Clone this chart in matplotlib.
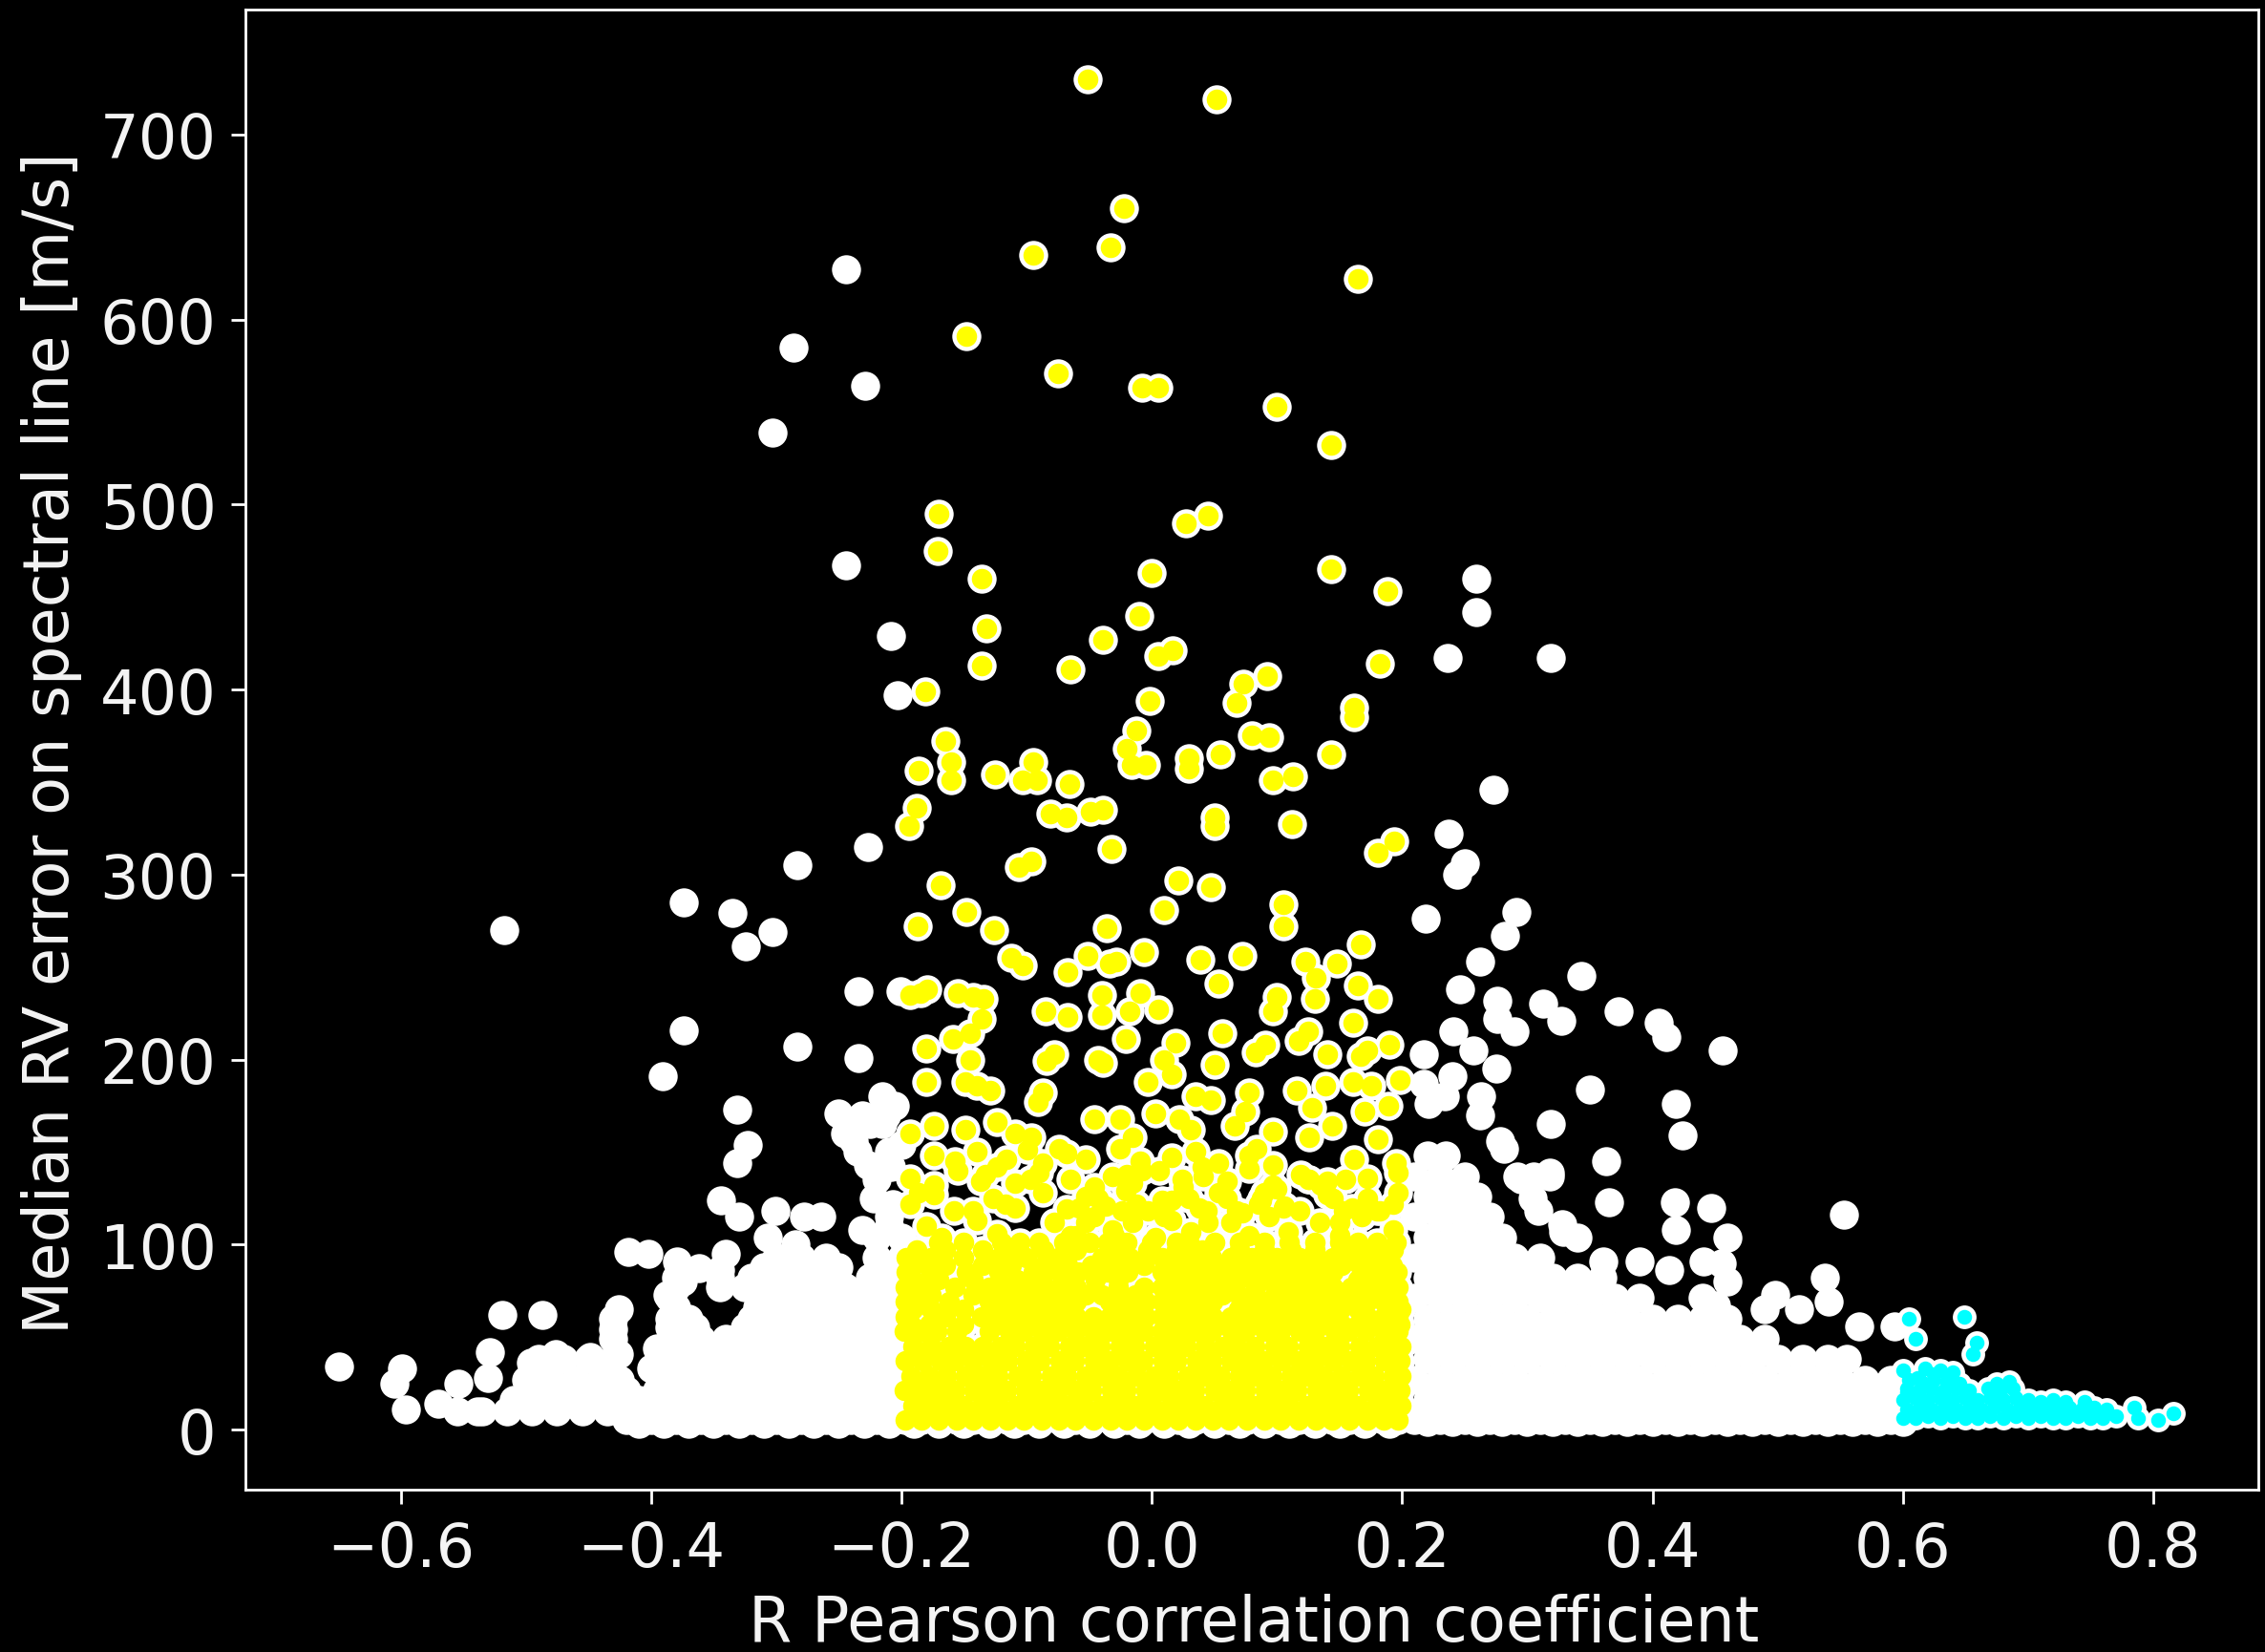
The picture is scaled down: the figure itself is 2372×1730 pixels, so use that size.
#!/usr/bin/python
# median RV error per spectral line against the R Pearson coefficient
# values, dense parts are kept as rows of points

import matplotlib
matplotlib.use('Agg')
import matplotlib.pyplot as plt

# isolated points outside the coloured ranges
white_x = [-.649,-.599,-.605,-.596,-.57,-.554,-.519,-.487,-.529,-.53,-.539,-.426,-.43,-.426,-.449,-.476,-.496,
           -.418,-.402,-.379,-.362,-.34,-.345,-.387,-.375,-.344,-.33,-.301,-.307,-.278,-.264,-.285,
           -.244,-.286,-.229,-.303,-.244,-.208,-.203,-.227,-.283,-.374,-.335,-.324,-.303,-.517,-.374,-.391,-.283,
           -.234,-.234,-.331,-.323,-.331,-.25,-.215,-.231,-.227,-.238,-.215,-.2,-.207,-.231,-.21,-.201,-.212,
           -.225,-.21,-.22,-.205,-.235,-.245,-.222,-.208,
           .236,.259,.259,.319,.273,.237,.25,.244,.219,.291,.282,.262,.246,.276,.276,.29,.241,.257,.313,.327,.343,
           .373,.405,.411,.456,.35,.419,.424,.319,.363,.365,.418,.447,.419,.553,.278,.281,.292,.318,.304,.329,
           .217,.221,.24,.263,.234,.217,.305,.318,.295,.309,.328,.34,.361,.39,.413,.441,.46,.455,.46,.451,
           .498,.49,.538,.541,.517,.565,.593,.275,.262]
white_y = [34,33,25,11,14,25,62,62,42,28,10,65,54,41,39,41,36,
           96,95,91,87,95,86,73,80,124,115,118,104,115,115,100,
           627,585,564,539,467,429,397,315,305,285,279,261,269,270,216,191,207,
           237,201,173,154,144,171,180,170,143,156,165,154,122,108,110,237,170,
           165,150,135,175,150,160,125,142,
           417,460,442,417,346,322,306,300,276,280,267,253,238,232,222,215,215,205,230,221,245,
           226,220,212,205,184,176,159,165,145,123,123,120,108,116,156,152,137,137,125,107,
           203,176,191,180,180,187,137,139,135,118,111,104,91,91,86,91,104,90,80,67,
           73,65,82,69,65,56,56,195,170]

# white rows filling the two wings
wing_y = [3,4,5,5,10,16,16,21,27,27,33,38,38,44,49,49,55,60,60,66,71,71,77,82,82,88,93,93,104,104,115,115,126,137,148]
wing_x = [
    [-.41,-.39,-.37,-.35,-.33,-.31,-.29,-.27,-.25,-.23,-.21,-.19,-.17,-.15,-.13,-.11,-.09,-.07,-.05,-.03,-.01,.01,.03,.05,.07,.09,.11,.13,.15,.17,.19],
    [.22,.24,.26,.28,.30,.32,.34,.36,.38,.40,.42,.44,.46,.48,.50,.52,.54,.56,.58,.60],
    [-.42,-.40,-.38,-.36,-.34,-.32,-.30,-.28,-.26,-.24,-.22,-.205],
    [.21,.23,.25,.27,.29,.31,.33,.35,.37,.39,.41,.43,.45,.47,.49,.51,.53,.55,.57,.59,.60],
    [-.555,-.535,-.515,-.495,-.475,-.455,-.435],
    [-.51,-.49,-.47,-.45,-.43,-.41,-.39,-.37,-.35,-.33,-.31,-.29,-.27,-.25,-.23,-.21],
    [.22,.24,.26,.28,.30,.32,.34,.36,.38,.40,.42,.44,.46,.48,.50,.52,.54,.56,.58,.595],
    [-.42,-.395,-.375,-.355,-.335,-.315,-.295,-.275,-.255,-.235,-.215],
    [-.50,-.48,-.46,-.44,-.425,-.39,-.37,-.35,-.33,-.31,-.29,-.27,-.25,-.23,-.21],
    [.21,.23,.25,.27,.29,.31,.33,.35,.37,.39,.41,.43,.45,.47,.49,.51,.53,.55,.57,.59,.60],
    [-.40,-.38,-.36,-.34,-.32,-.30,-.28,-.26,-.24,-.22,-.20],
    [-.49,-.47,-.45,-.43,-.385,-.365,-.345,-.325,-.305,-.285,-.265,-.245,-.225,-.205],
    [.22,.24,.26,.28,.30,.32,.34,.36,.38,.40,.42,.44,.46,.48,.50,.52,.54,.555],
    [-.395,-.375,-.355,-.335,-.315,-.295,-.275,-.255,-.235,-.215],
    [-.43,-.38,-.36,-.34,-.32,-.30,-.28,-.26,-.24,-.22,-.20],
    [.21,.23,.25,.27,.29,.31,.33,.35,.37,.39,.41,.43,.45,.47,.49],
    [-.385,-.365,-.325,-.305,-.285,-.265,-.245,-.225,-.205],
    [-.43,-.385,-.37,-.32,-.305,-.285,-.265,-.245,-.225,-.205],
    [.22,.24,.26,.28,.30,.32,.34,.36,.38,.40,.42,.44,.46],
    [-.38,-.315,-.295,-.275,-.255,-.235,-.215],
    [-.385,-.31,-.29,-.27,-.25,-.23,-.21],
    [.21,.23,.25,.27,.29,.31,.33,.35,.37,.39,.44],
    [-.38,-.345,-.325,-.305,-.285,-.265,-.245,-.215],
    [-.38,-.345,-.32,-.30,-.28,-.26,-.225,-.205],
    [.22,.24,.26,.28,.30,.32,.34,.36],
    [-.31,-.29,-.27,-.25,-.215],
    [-.30,-.28,-.26,-.22,-.20],
    [.21,.23,.25,.27,.29,.31],
    [-.22,-.20],
    [.22,.24,.26,.28],
    [-.21],
    [.21,.23,.25,.27],
    [.22,.24,.26],
    [.21,.23,.25],
    [.22,.235],
]

# yellow points above the solid block
yellow_x = [-.051,.052,-.022,-.033,-.095,.165,-.148,-.075,-.008,.005,.1,.143,-.17,-.171,.027,.045,-.136,0,.143,.188,
            -.132,-.136,-.065,-.039,-.01,.005,.017,-.181,.092,.073,.068,.182,.162,.162,-.002,-.012,-.165,-.16,-.16,
            -.186,-.188,-.194,-.125,-.095,-.103,-.092,-.066,-.081,-.068,-.049,-.039,-.02,-.016,-.005,.03,.03,.055,
            .08,.094,.113,.097,.143,.05,.05,.112,.194,.181,-.032,-.106,-.096,-.169,.021,.047,.01,-.148,.105,.105,
            -.126,-.187,-.036,-.112,-.103,-.006,-.028,-.034,-.051,-.067,.039,.072,.053,.123,.148,.131,
            -.185,-.193,-.179,-.155,-.143,-.134,-.04,-.009,.13,.165,.181,.1,.097,-.085,-.067,-.04,-.018,.005,-.136,
            .161,-.145,-.159,-.18,.056,-.021,.019,.125,.117,.091,.083,.19,.14,.167,-.078,-.084,-.043,-.039,-.145,
            .05,.01,-.18,-.149,-.129,-.14,-.087,-.091,-.003,.016,.078,.116,.139,.161,.175,.198,.035,.047,.128,.144,
            .17,.189,.003,.022,-.046,-.025,-.015,.066,.075,.031,.097,.126,.181,-.124,-.109,-.096,-.174,-.193,-.149,
            -.074,.084,.167,.172,
            # band between 100 and 155
            -.18,-.168,-.14,-.124,-.078,-.065,-.046,-.031,-.015,.003,.016,.031,.063,.078,.094,.109,.134,.15,.168,.193,
            -.193,-.174,-.143,-.127,-.109,-.087,-.068,-.053,-.037,-.021,-.003,.016,.038,.053,.072,.088,.106,.14,.153,.172,.193,
            -.193,-.174,-.155,-.137,-.124,-.109,-.09,-.065,-.046,-.031,-.015,.006,.025,.041,.06,.078,.097,.119,.14,.172,.197,
            -.174,-.157,-.14,-.116,-.099,-.087,-.068,-.053,-.025,-.009,.016,.035,.053,.078,.097,.162,.195,
            -.186,-.158,-.133,-.117,-.097,-.058,-.043,-.024,-.008,.008,.024,.044,.06,.085,.1,.118,.126,.145,.16,.18,.197,
            -.053,-.03,-.012,.01,.03,.045,.068,.088,.105,.125,.15,.182,-.06,-.02,.04,.09,.135,.155]
yellow_y = [730,719,660,639,635,622,591,571,563,563,553,532,495,475,490,494,460,463,465,453,
            433,413,411,427,440,418,421,399,407,403,393,414,390,385,394,378,372,361,351,
            356,336,326,354,361,351,351,349,333,331,334,335,368,359,359,363,357,365,
            375,374,353,351,365,331,326,327,318,312,314,304,307,294,297,293,281,280,284,272,
            270,272,271,255,251,258,253,252,256,247,254,256,241,253,252,244,
            236,235,238,236,234,233,235,236,233,240,233,234,226,226,223,224,226,227,222,
            220,214,211,206,214,211,209,215,210,208,204,208,203,202,203,199,200,198,200,
            197,200,188,188,183,186,182,177,188,192,182,183,186,188,186,189,180,178,174,164,
            172,175,171,168,168,168,158,164,172,162,161,158,157,166,160,158,164,160,162,
            152,152,262,205,
            110,104,113,106,112,105,115,108,112,104,113,107,112,105,115,107,112,105,115,108,
            122,127,118,125,120,128,119,126,121,129,118,124,120,128,117,125,121,127,118,125,122,
            136,132,140,134,142,133,139,135,131,137,133,140,131,137,134,141,132,138,134,136,139,
            148,145,150,146,151,144,149,146,152,145,147,150,144,148,143,146,144,
            128,118,138,122,135,120,125,118,140,124,135,118,125,122,130,118,135,125,120,118,128,
            112,105,122,115,125,112,118,124,120,135,112,118,105,138,142,128,132,135]

# yellow rows making up the solid block
block_y = [5,13,21,29,37,45,53,57,61,65,69,73,77,81,85,89,93,97,101]
block_x = [
    [-.197,-.184,-.170,-.156,-.143,-.129,-.115,-.102,-.088,-.074,-.061,-.047,-.033,-.020,-.006,.008,.021,.035,.049,.062,.076,.090,.103,.117,.131,.144,.158,.172,.185,.197],
    [-.191,-.177,-.163,-.150,-.136,-.122,-.108,-.095,-.081,-.067,-.054,-.040,-.026,-.013,.001,.015,.028,.042,.056,.069,.083,.097,.110,.124,.138,.151,.165,.179,.192,.199],
    [-.198,-.185,-.171,-.157,-.142,-.130,-.116,-.101,-.087,-.075,-.060,-.048,-.032,-.021,-.005,.009,.022,.034,.050,.063,.075,.091,.104,.116,.132,.145,.157,.173,.186,.198],
    [-.192,-.178,-.164,-.149,-.135,-.123,-.107,-.096,-.080,-.068,-.053,-.039,-.027,-.012,.002,.014,.029,.043,.055,.070,.084,.096,.111,.125,.137,.152,.166,.178,.193,.199],
    [-.197,-.183,-.169,-.157,-.143,-.128,-.115,-.100,-.089,-.073,-.062,-.046,-.034,-.019,-.007,.009,.020,.036,.048,.063,.077,.089,.104,.118,.130,.145,.159,.171,.186,.198],
    [-.191,-.176,-.162,-.149,-.135,-.121,-.109,-.094,-.082,-.066,-.054,-.041,-.025,-.014,.002,.016,.027,.043,.057,.068,.082,.098,.109,.125,.139,.150,.166,.180,.191,.199],
    [-.198,-.184,-.172,-.156,-.130,-.114,-.102,-.088,-.075,-.061,-.047,-.033,-.019,-.006,.008,.022,.035,.048,.064,.075,.091,.103,.118,.130,.146,.157,.171,.185,.197],
    [-.192,-.178,-.150,-.122,-.108,-.095,-.081,-.068,-.053,-.040,-.027,-.012,.015,.029,.042,.056,.070,.083,.097,.112,.124,.138,.152,.165,.179,.191,.198],
    [-.197,-.165,-.136,-.116,-.101,-.088,-.075,-.060,-.047,-.034,-.020,-.005,.008,.022,.036,.049,.063,.076,.090,.105,.117,.131,.145,.172,.185,.197],
    [-.191,-.176,-.150,-.123,-.108,-.095,-.082,-.067,-.027,-.013,.015,.029,.042,.069,.083,.098,.111,.124,.138,.151,.165,.192,.199],
    [-.197,-.184,-.162,-.130,-.116,-.101,-.088,-.075,-.060,-.034,-.020,-.005,.008,.022,.036,.049,.076,.090,.105,.117,.131,.145,.159,.172,.185,.197],
    [-.192,-.176,-.143,-.122,-.108,-.082,-.067,-.053,-.040,-.013,.015,.029,.042,.056,.069,.098,.111,.124,.138,.151,.165,.179,.192],
    [-.197,-.184,-.157,-.130,-.116,-.095,-.074,-.060,-.027,-.006,.008,.022,.036,.049,.063,.083,.105,.117,.131,.145,.159,.172,.185,.197],
    [-.191,-.170,-.143,-.108,-.088,-.067,-.045,-.027,.015,.029,.042,.056,.069,.090,.098,.111,.124,.138,.165,.179,.192],
    [-.196,-.176,-.148,-.122,-.095,-.074,-.059,-.036,-.019,.008,.022,.050,.063,.076,.104,.117,.131,.145,.172,.185,.196],
    [-.19,-.165,-.135,-.112,-.086,-.067,-.048,-.028,-.006,.015,.036,.056,.070,.090,.111,.124,.138,.152,.166,.179,.192],
    [-.196,-.176,-.150,-.122,-.100,-.075,-.040,-.018,.008,.028,.048,.063,.080,.100,.118,.145,.160,.185],
    [-.188,-.165,-.135,-.112,-.086,-.060,-.028,-.003,.020,.040,.070,.090,.111,.130,.152,.172,.193],
    [-.17,-.15,-.12,-.105,-.09,-.07,-.05,-.035,-.02,0,.02,.03,.05,.07,.09,.11,.13,.15,.165,.18,.195],
]

# cyan points, r above 0.6
cyan_x = [.605,.61,.649,.659,.656,.785,.788,.804,.816,
          .60,.61,.62,.63,.64,.65,.66,.67,.68,.69,.70,.71,.72,.73,.74,.75,.76,.77,
          .603,.613,.623,.633,.643,.653,.663,.673,.683,.693,.703,.713,.723,.733,.743,.753,.763,
          .60,.61,.62,.63,.64,.65,.66,.67,.68,.69,.70,.71,.72,.73,.745,
          .603,.613,.623,.633,.643,.653,.668,.678,.688,
          .605,.615,.625,.635,.645,.675,.685,
          .60,.618,.63,.64,.603,.612,.625]
cyan_y = [60,49,61,47,41,12,6,5,9,
          6,6,7,6,7,6,6,7,6,7,6,7,6,6,7,6,6,7,
          11,12,11,12,11,12,11,12,11,12,11,12,11,12,11,12,11,
          16,17,16,17,16,17,16,17,16,17,16,15,16,15,15,
          22,21,22,21,22,21,22,21,22,
          27,26,27,26,25,25,26,
          32,33,32,31,20,28,30]

xticks = [-.6,-.4,-.2,0,.2,.4,.6,.8]
yticks = [0,100,200,300,400,500,600,700]

row_x = [x for xs in block_x for x in xs]
row_y = [y for y, xs in zip(block_y, block_x) for x in xs]
wing_px = [x for xs in wing_x for x in xs]
wing_py = [y for y, xs in zip(wing_y, wing_x) for x in xs]

fig = plt.figure(figsize=(23.72, 17.31), dpi=100, facecolor='black')
ax = fig.add_axes([257/2372., 1-1561/1731., (2365-257)/2372., (1561-11)/1731.], facecolor='black')

ax.scatter(white_x + wing_px + yellow_x + row_x, white_y + wing_py + yellow_y + row_y, s=480, c='white', linewidths=0)
ax.scatter(yellow_x + row_x, yellow_y + row_y, s=240, c='#ffff00', linewidths=0)
ax.scatter(cyan_x, cyan_y, s=320, c='white', linewidths=0)
ax.scatter(cyan_x, cyan_y, s=125, c='#00ffff', linewidths=0)

ax.set_xlim(-.724, .884)
ax.set_ylim(-32.5, 767.5)
ax.set_xticks(xticks)
ax.set_yticks(yticks)
ax.set_xticklabels(['\u22120.6', '\u22120.4', '\u22120.2', '0.0', '0.2', '0.4', '0.6', '0.8'])
ax.tick_params(colors='white', labelcolor='#f4f4f4', labelsize=46, length=11, width=2, pad=11)
for s in ax.spines.values():
    s.set_color('white')
    s.set_linewidth(2)
ax.set_xlabel('R Pearson correlation coefficient', fontsize=47, color='#f4f4f4')
ax.set_ylabel('Median RV error on spectral line [m/s]', fontsize=47, color='#f4f4f4')
ax.xaxis.set_label_coords(.501, -.0697)
ax.yaxis.set_label_coords(-.081, .505)

plt.savefig('out.png', dpi=100, facecolor='black')
